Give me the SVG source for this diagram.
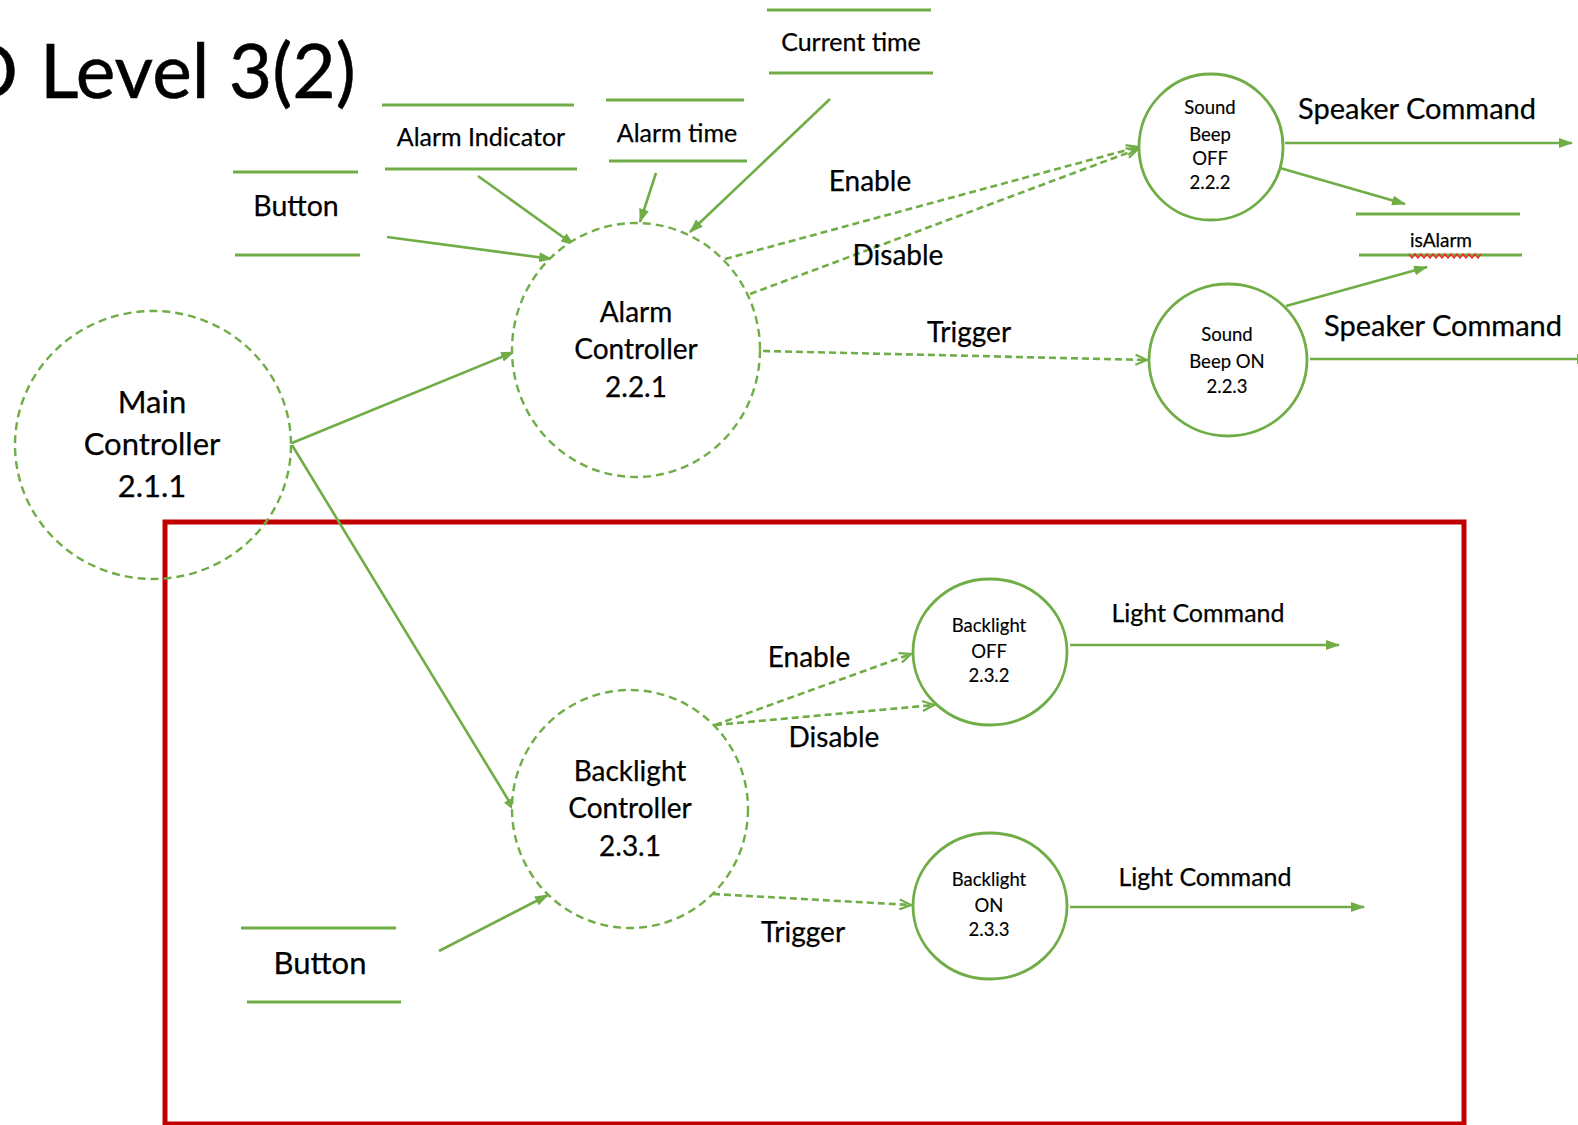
<svg xmlns="http://www.w3.org/2000/svg" width="1578" height="1125" viewBox="0 0 1578 1125">
  <style>
    text { font-family: Lato, "Open Sans", "Liberation Sans", sans-serif; fill: #000; stroke: #000; stroke-width: 0.25; }
    .c { text-anchor: middle; }
    .store { stroke: #70ad47; stroke-width: 3; fill: none; }
    .proc { stroke: #70ad47; stroke-width: 2.8; fill: #fff; }
    .ctrl { stroke: #70ad47; stroke-width: 2.4; fill: #fff; stroke-dasharray: 8 5; }
    .flow { stroke: #70ad47; stroke-width: 2.6; fill: none; marker-end: url(#arrow); }
    .ctl { stroke: #70ad47; stroke-width: 2.6; fill: none; stroke-dasharray: 7 4; marker-end: url(#open); }
    .t-title { font-size: 75px; stroke-width: 0.5; }
    .t-ctrl { font-size: 28px; }
    .t-main { font-size: 31px; }
    .t-store { font-size: 25px; }
    .t-btn { font-size: 28.5px; }
    .t-small { font-size: 18.5px; stroke-width: 0.15; }
    .t-flow { font-size: 28px; }
    .t-speaker { font-size: 29px; }
    .t-light { font-size: 25px; }
  </style>
  <defs>
    <marker id="arrow" viewBox="0 0 14 10" refX="13" refY="5" markerWidth="14" markerHeight="10" markerUnits="userSpaceOnUse" orient="auto">
      <path d="M0,0 L14,5 L0,10 z" fill="#70ad47"/>
    </marker>
    <marker id="open" viewBox="0 0 14 12" refX="12.5" refY="6" markerWidth="14" markerHeight="12" markerUnits="userSpaceOnUse" orient="auto">
      <path d="M1,1 L12.5,6 L1,11" fill="none" stroke="#70ad47" stroke-width="2.2"/>
    </marker>
  </defs>

  <rect width="1578" height="1125" fill="#fff"/>

  <!-- heading -->
  <text class="t-title" y="98"><tspan x="-39">D</tspan><tspan x="40">Level 3(2)</tspan></text>

  <!-- highlighted region -->
  <rect id="backlight-region" x="165" y="522" width="1299" height="602" fill="none" stroke="#c00000" stroke-width="5"/>

  <!-- connectors -->
  <g id="connectors">
    <line class="flow" x1="387" y1="237" x2="552" y2="259"/>
    <line class="flow" x1="478" y1="176" x2="574" y2="245"/>
    <line class="flow" x1="656" y1="173" x2="640" y2="222"/>
    <line class="flow" x1="830" y1="99" x2="690" y2="232"/>
    <line class="flow" x1="292" y1="443" x2="514" y2="352"/>
    <line class="flow" x1="292" y1="445" x2="515" y2="811"/>
    <line class="flow" x1="1280" y1="168" x2="1405" y2="204"/>
    <line class="flow" x1="1286" y1="306" x2="1427" y2="267"/>
    <line class="flow" x1="1285" y1="143" x2="1572" y2="143"/>
    <line class="flow" x1="1310" y1="359" x2="1590" y2="359"/>
    <line class="flow" x1="1070" y1="645" x2="1339" y2="645"/>
    <line class="flow" x1="1070" y1="907" x2="1364" y2="907"/>
    <line class="flow" x1="439" y1="951" x2="548" y2="895"/>

    <line class="ctl" x1="725" y1="259" x2="1138" y2="147"/>
    <line class="ctl" x1="750" y1="294" x2="1138" y2="149"/>
    <line class="ctl" x1="763" y1="351" x2="1147" y2="360"/>
    <line class="ctl" x1="715" y1="725" x2="911" y2="654"/>
    <line class="ctl" x1="715" y1="725" x2="934" y2="705"/>
    <line class="ctl" x1="713" y1="894" x2="911" y2="905"/>

    <text class="t-flow c" x="870" y="191">Enable</text>
    <text class="t-flow c" x="898" y="265">Disable</text>
    <text class="t-flow c" x="969" y="342">Trigger</text>
    <text class="t-speaker" x="1298" y="119">Speaker Command</text>
    <text class="t-speaker" x="1324" y="336">Speaker Command</text>
    <text class="t-flow c" x="809" y="667">Enable</text>
    <text class="t-flow c" x="834" y="747">Disable</text>
    <text class="t-flow c" x="803" y="942">Trigger</text>
    <text class="t-light c" x="1198" y="622">Light Command</text>
    <text class="t-light c" x="1205" y="886">Light Command</text>
  </g>

  <!-- data stores -->
  <g id="store-alarm-indicator">
    <line class="store" x1="382" y1="105" x2="574" y2="105"/>
    <line class="store" x1="385" y1="169" x2="577" y2="169"/>
    <text class="t-store c" x="481" y="146">Alarm Indicator</text>
  </g>
  <g id="store-alarm-time">
    <line class="store" x1="606" y1="100" x2="744" y2="100"/>
    <line class="store" x1="609" y1="161" x2="747" y2="161"/>
    <text class="t-store c" x="677" y="142">Alarm time</text>
  </g>
  <g id="store-current-time">
    <line class="store" x1="767" y1="10" x2="931" y2="10"/>
    <line class="store" x1="769" y1="73" x2="933" y2="73"/>
    <text class="t-store c" x="851" y="51">Current time</text>
  </g>
  <g id="store-button-top">
    <line class="store" x1="233" y1="172" x2="358" y2="172"/>
    <line class="store" x1="235" y1="255" x2="360" y2="255"/>
    <text class="t-btn c" x="296" y="216">Button</text>
  </g>
  <g id="store-isalarm">
    <line class="store" x1="1356" y1="214" x2="1520" y2="214"/>
    <line class="store" x1="1359" y1="255" x2="1522" y2="255"/>
    <text class="c" x="1441" y="247" font-size="19" stroke-width="0.15">isAlarm</text>
    <polyline points="1409,254 1412,258 1415,254 1418,258 1421,254 1424,258 1427,254 1430,258 1433,254 1436,258 1439,254 1442,258 1445,254 1448,258 1451,254 1454,258 1457,254 1460,258 1463,254 1466,258 1469,254 1472,258 1475,254 1478,258 1481,254" fill="none" stroke="#e8302a" stroke-width="1.4"/>
  </g>
  <g id="store-button-bottom">
    <line class="store" x1="241" y1="928" x2="396" y2="928"/>
    <line class="store" x1="247" y1="1002" x2="401" y2="1002"/>
    <text class="t-main c" x="320" y="974">Button</text>
  </g>

  <!-- processes -->
  <g id="main-controller">
    <ellipse class="ctrl" cx="153" cy="445" rx="138" ry="134" style="fill:none"/>
    <text class="t-main c" x="152" y="413">Main</text>
    <text class="t-main c" x="152" y="455">Controller</text>
    <text class="t-main c" x="152" y="497">2.1.1</text>
  </g>
  <g id="alarm-controller">
    <ellipse class="ctrl" cx="636" cy="350" rx="124" ry="127"/>
    <text class="t-ctrl c" x="636" y="322">Alarm</text>
    <text class="t-ctrl c" x="636" y="359">Controller</text>
    <text class="t-ctrl c" x="636" y="397">2.2.1</text>
  </g>
  <g id="sound-beep-off">
    <ellipse class="proc" cx="1211" cy="147" rx="72" ry="73"/>
    <text class="t-small c" x="1210" y="114">Sound</text>
    <text class="t-small c" x="1210" y="141">Beep</text>
    <text class="t-small c" x="1210" y="165">OFF</text>
    <text class="t-small c" x="1210" y="189">2.2.2</text>
  </g>
  <g id="sound-beep-on">
    <ellipse class="proc" cx="1228" cy="360" rx="79" ry="76"/>
    <text class="t-small c" x="1227" y="341">Sound</text>
    <text class="t-small c" x="1227" y="368">Beep ON</text>
    <text class="t-small c" x="1227" y="393">2.2.3</text>
  </g>
  <g id="backlight-controller">
    <ellipse class="ctrl" cx="630" cy="809" rx="118" ry="119"/>
    <text class="t-ctrl c" x="630" y="781">Backlight</text>
    <text class="t-ctrl c" x="630" y="818">Controller</text>
    <text class="t-ctrl c" x="630" y="856">2.3.1</text>
  </g>
  <g id="backlight-off">
    <ellipse class="proc" cx="990" cy="652" rx="77" ry="73"/>
    <text class="t-small c" x="989" y="632">Backlight</text>
    <text class="t-small c" x="989" y="658">OFF</text>
    <text class="t-small c" x="989" y="682">2.3.2</text>
  </g>
  <g id="backlight-on">
    <ellipse class="proc" cx="990" cy="906" rx="77" ry="73"/>
    <text class="t-small c" x="989" y="886">Backlight</text>
    <text class="t-small c" x="989" y="912">ON</text>
    <text class="t-small c" x="989" y="936">2.3.3</text>
  </g>
</svg>
